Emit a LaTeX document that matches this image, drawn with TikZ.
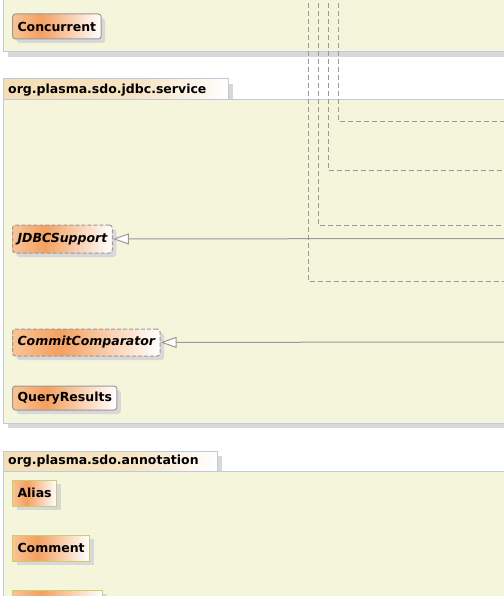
\documentclass[tikz,border=0pt]{standalone}
\usepackage{fontspec}
\setsansfont{DejaVu Sans}
\usetikzlibrary{arrows.meta,shadows}

\definecolor{pkgfill}{RGB}{245,245,220}
\definecolor{pkgline}{RGB}{192,200,222}
\definecolor{shadowgray}{RGB}{216,216,216}
\definecolor{linegray}{RGB}{153,153,153}
\definecolor{annline}{RGB}{204,206,110}
\definecolor{nodeorange}{RGB}{244,160,96}
\definecolor{nodelight}{RGB}{248,196,150}
\definecolor{tabwheat}{RGB}{245,222,180}

\pgfdeclarehorizontalshading{nodeshade}{100bp}{color(0bp)=(nodelight); color(25bp)=(nodelight); color(41bp)=(nodeorange); color(75bp)=(white); color(100bp)=(white)}
\pgfdeclarehorizontalshading{tabshade}{100bp}{color(0bp)=(tabwheat); color(25bp)=(tabwheat); color(55bp)=(tabwheat!80!white); color(75bp)=(white); color(100bp)=(white)}

\tikzset{
	pkgbody/.style={draw=pkgline, fill=pkgfill, line width=1pt},
	pkgtab/.style={draw=pkgline, shading=tabshade, line width=1pt},
	shadowbar/.style={fill=shadowgray},
	pkglabel/.style={anchor=west, inner sep=0pt, font=\sffamily\bfseries\fontsize{12.5}{15}\selectfont},
	classbox/.style={draw=linegray, line width=1pt, rounded corners=3pt, shading=nodeshade, anchor=west,
		minimum height=25pt, inner xsep=5pt, inner ysep=0pt,
		font=\sffamily\bfseries\fontsize{12.5}{15}\selectfont,
		drop shadow={shadow xshift=4pt, shadow yshift=-4pt, fill=shadowgray, opacity=1, draw=none}},
	ifacebox/.style={classbox, dash pattern=on 4pt off 2pt, font=\sffamily\bfseries\itshape\fontsize{12.5}{15}\selectfont},
	annbox/.style={classbox, draw=annline, rounded corners=0pt, minimum height=26pt},
	gen/.style={draw=linegray, line width=1pt, -{Triangle[open, fill=white, length=16pt, width=11pt]}},
	dep/.style={draw=linegray, line width=1pt, dash pattern=on 5pt off 3pt},
}

\begin{document}
\begin{tikzpicture}[x=1pt,y=-1pt]
		\useasboundingbox (0,0) rectangle (503,596);
		% packages
		\fill[shadowbar] (8,52) rectangle (510,57);
		\draw[pkgbody] (3,-10) rectangle (510,52);
		\fill[shadowbar] (228,84) rectangle (233,100);
		\fill[shadowbar] (8,423) rectangle (510,428);
		\draw[pkgtab] (3,79) rectangle (228,100);
		\draw[pkgbody] (3,100) rectangle (510,423);
		\fill[shadowbar] (217,456) rectangle (222,471);
		\draw[pkgtab] (3,451) rectangle (217,471);
		\draw[pkgbody] (3,471) rectangle (510,610);
		\node[pkglabel] (service) at (8,90) {org.plasma.sdo.jdbc.service};
		\node[pkglabel] (annotation) at (8,461.5) {org.plasma.sdo.annotation};
		% free ends
		\coordinate (d1) at (308.5,-5);
		\coordinate (d2) at (318.5,-5);
		\coordinate (d3) at (328.5,-5);
		\coordinate (d4) at (338.5,-5);
		\coordinate (e1) at (510,281.5);
		\coordinate (e2) at (510,225.5);
		\coordinate (e3) at (510,170.5);
		\coordinate (e4) at (510,121.5);
		\coordinate (g1) at (510,238.5);
		\coordinate (g2) at (510,342);
		\draw[dep] (d1) |- (e1);
		\draw[dep] (d2) |- (e2);
		\draw[dep] (d3) |- (e3);
		\draw[dep] (d4) |- (e4);
		% classes
		\node[classbox] (Concurrent) at (12,26.5) {Concurrent};
		\node[ifacebox, minimum height=28pt] (JDBCSupport) at (12,239) {JDBCSupport};
		\node[ifacebox, minimum height=27pt] (CommitComparator) at (12,342.5) {CommitComparator};
		\node[classbox, minimum height=24pt] (QueryResults) at (12,398) {QueryResults};
		\node[annbox] (Alias) at (12,493) {Alias};
		\node[annbox] (Comment) at (12,548) {Comment};
		\node[annbox, minimum width=90pt] (Cut) at (12,603) {};
		\draw[gen] (g1) -- (JDBCSupport);
		\draw[gen] (g2) -- (CommitComparator);
		\end{tikzpicture}
\end{document}
